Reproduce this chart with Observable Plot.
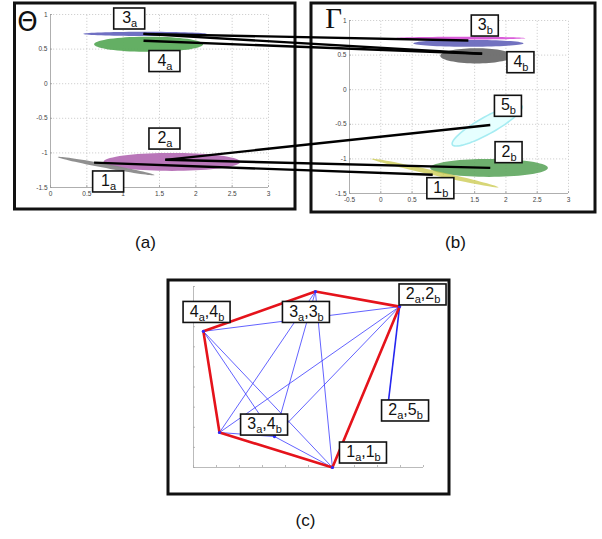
<!DOCTYPE html>
<html><head><meta charset="utf-8">
<script src="https://cdn.jsdelivr.net/npm/d3@7"></script>
<script src="https://cdn.jsdelivr.net/npm/@observablehq/plot@0.6"></script>
<style>
body{margin:0;background:#fff;font-family:Arial,"Liberation Sans",sans-serif}
#chart svg{display:block}
</style>
</head><body><div id="chart"></div>
<script>
// ---------- DATA ----------
const ticksAX = [0, 0.5, 1, 1.5, 2, 2.5, 3];
const ticksAY = [-1.5, -1, -0.5, 0, 0.5, 1];
const ticksBX = [-0.5, 0, 0.5, 1, 1.5, 2, 2.5, 3];
const ticksBY = [-1.5, -1, -0.5, 0, 0.5, 1];
const ticksCX = [0, 1, 2, 3, 4, 5, 6, 7, 8, 9, 10];
const ticksCY = [0, 1, 2, 3, 4, 5, 6, 7, 8, 9];

// ellipses: centre, half axes, tilt of major axis (data units)
const ellipsesA = [
  {id: "4a", cx: 1.35, cy: 0.57, rx: 0.75, ry: 0.11, tilt: 0},
  {id: "3a", cx: 1.30, cy: 0.72, rx: 0.85, ry: 0.03, tilt: 0},
  {id: "2a", cx: 1.67, cy: -1.13, rx: 0.94, ry: 0.13, tilt: 0},
  {id: "1a", cx: 0.765, cy: -1.19, rx: 0.665, ry: 0.03, tilt: -0.13}
];
const ellipsesB = [
  {id: "3b'", cx: 1.40, cy: 0.67, rx: 0.88, ry: 0.05, tilt: 0},
  {id: "3b", cx: 1.27, cy: 0.745, rx: 1.04, ry: 0.02, tilt: 0},
  {id: "4b", cx: 1.53, cy: 0.49, rx: 0.58, ry: 0.11, tilt: 0},
  {id: "5b", cx: 1.70, cy: -0.515, rx: 0.56, ry: 0.14, tilt: 0.265},
  {id: "2b", cx: 1.73, cy: -1.13, rx: 0.94, ry: 0.13, tilt: 0},
  {id: "1b", cx: 0.865, cy: -1.205, rx: 1.015, ry: 0.035, tilt: -0.205}
];
// matches between the two panels (a point -> b point)
const matches = [
  {from: "3a", ax: 1.28, ay: 0.72, to: "3b", bx: 1.40, by: 0.71},
  {from: "3a", ax: 1.28, ay: 0.72, to: "4b", bx: 1.62, by: 0.52},
  {from: "4a", ax: 1.28, ay: 0.62, to: "4b", bx: 1.62, by: 0.52},
  {from: "2a", ax: 1.58, ay: -1.10, to: "5b", bx: 1.75, by: -0.51},
  {from: "2a", ax: 1.58, ay: -1.10, to: "2b", bx: 1.75, by: -1.13},
  {from: "1a", ax: 0.60, ay: -1.14, to: "1b", bx: 0.83, by: -1.23}
];
const labelsA = [
  {text: "3_a", x: 1.09, y: 0.935},
  {text: "4_a", x: 1.575, y: 0.32},
  {text: "2_a", x: 1.575, y: -0.80},
  {text: "1_a", x: 0.80, y: -1.42}
];
const labelsB = [
  {text: "3_b", x: 1.67, y: 0.92},
  {text: "4_b", x: 2.24, y: 0.39},
  {text: "5_b", x: 2.04, y: -0.24},
  {text: "2_b", x: 2.05, y: -0.91},
  {text: "1_b", x: 0.96, y: -1.43}
];
// graph (c)
const nodes = [
  {id: "4a4b", x: 0.43, y: 6.77},
  {id: "3a3b", x: 5.30, y: 8.75},
  {id: "2a2b", x: 8.96, y: 8.00},
  {id: "2a5b", x: 8.48, y: 3.33},
  {id: "1a1b", x: 6.04, y: 0.00},
  {id: "LB",   x: 1.13, y: 1.74},
  {id: "3a4b", x: 3.52, y: 1.54}
];
const hullOrder = ["4a4b", "3a3b", "2a2b", "1a1b", "LB", "4a4b"];
const blueEdges = [
  ["4a4b","2a2b"],["4a4b","1a1b"],["4a4b","3a4b"],["4a4b","3a3b"],["LB","3a3b"],
  ["LB","2a2b"],["LB","3a4b"],["3a4b","1a1b"],["3a4b","3a3b"],["3a4b","2a2b"],
  ["1a1b","3a3b"],["3a3b","2a2b"],["1a1b","2a2b"],["LB","4a4b"],["LB","1a1b"]
];
const strongEdges = [["2a2b","2a5b"]];
const labelsC = [
  {text: "4_a,4_b", x: 0.59, y: 7.71},
  {text: "3_a,3_b", x: 4.91, y: 7.71},
  {text: "2_a,2_b", x: 9.98, y: 8.58},
  {text: "2_a,5_b", x: 9.22, y: 2.81},
  {text: "3_a,4_b", x: 3.09, y: 2.11},
  {text: "1_a,1_b", x: 7.39, y: 0.72}
];
const captions = ["(a)", "(b)", "(c)"];
const panelSymbols = ["Θ", "Γ"];

// ---------- STYLE / LAYOUT ----------
const colors = {"4a":"#5cab5c","3a":"#6868c0","2a":"#b56fb5","1a":"#8a8a8a",
  "3b'":"#6a6abd","3b":"#d64bd6","4b":"#6c6c6c","5b":"#e6ffff","2b":"#5ea65e","1b":"#c9c84a"};
const opac = {"4a":0.95,"3a":0.95,"2a":0.95,"1a":0.95,"3b'":0.95,"3b":0.9,"4b":0.95,"5b":1,"2b":0.9,"1b":0.75};
const pa = {x: d3.scaleLinear([0, 3], [50, 268]), y: d3.scaleLinear([-1.5, 1], [187, 14])};
const pb = {x: d3.scaleLinear([-0.5, 3], [349, 568]), y: d3.scaleLinear([-1.5, 1], [193, 20])};
const pc = {x: d3.scaleLinear([0, 10], [193, 423]), y: d3.scaleLinear([0, 9], [467, 286])};
const frames = [{x1: 14.5, x2: 295, y1: 3, y2: 209}, {x1: 311, x2: 595, y1: 3, y2: 212}, {x1: 168, x2: 449, y1: 280, y2: 494}];
const captionPos = [{x: 145, y: 242}, {x: 455, y: 242}, {x: 305, y: 520}];
const symbolPos = [{x: 27, y: 22, font: "DejaVu Sans", size: 26}, {x: 333, y: 18, font: "Liberation Serif", size: 29}];
const boxW = {a: 31, b: 27, c: 47}, boxH = 21;

const boxesA = labelsA.map(d => ({cx: pa.x(d.x), cy: pa.y(d.y), w: boxW.a}));
const boxesB = labelsB.map(d => ({cx: pb.x(d.x), cy: pb.y(d.y), w: boxW.b}));
const covered = (px, py, boxes) => boxes.some(b => Math.abs(px - b.cx) < b.w / 2 + 1 && Math.abs(py - b.cy) < boxH / 2 + 1);

function ellipsePts(e, P) {
  const pts = [];
  for (let i = 0; i <= 72; i++) {
    const t = i / 72 * 2 * Math.PI;
    pts.push({px: P.x(e.cx + e.rx * Math.cos(t)), py: P.y(e.cy + e.tilt * Math.cos(t) + e.ry * Math.sin(t))});
  }
  return pts;
}

function panelMarks(P, tx, ty, boxes) {
  const x0 = tx[0], x1 = tx[tx.length - 1], y0 = ty[0], y1 = ty[ty.length - 1];
  const grid = {stroke: "#bdbdbd", strokeWidth: 0.7, strokeDasharray: "1.2,1.8"};
  return [
    Plot.ruleX(tx.slice(1), {x: d => P.x(d), y1: P.y(y0), y2: P.y(y1), ...grid}),
    Plot.ruleY(ty.slice(1), {y: d => P.y(d), x1: P.x(x0), x2: P.x(x1), ...grid}),
    Plot.ruleX([x0], {x: d => P.x(d), y1: P.y(y0), y2: P.y(y1), stroke: "#9a9a9a", strokeWidth: 0.8}),
    Plot.ruleY([y0], {y: d => P.y(d), x1: P.x(x0), x2: P.x(x1), stroke: "#9a9a9a", strokeWidth: 0.8}),
    Plot.ruleX(tx, {x: d => P.x(d), y1: P.y(y0), y2: P.y(y0) - 2, stroke: "#9a9a9a", strokeWidth: 0.8}),
    Plot.ruleY(ty, {y: d => P.y(d), x1: P.x(x0), x2: P.x(x0) + 2, stroke: "#9a9a9a", strokeWidth: 0.8}),
    Plot.text(tx.filter(d => !covered(P.x(d), P.y(y0) + 6, boxes)),
      {x: d => P.x(d), y: P.y(y0) + 6, text: d => String(d), fontSize: 6.5, fill: "#444"}),
    Plot.text(ty, {x: P.x(x0) - 3, y: d => P.y(d), text: d => String(d), fontSize: 6.5, fill: "#444", textAnchor: "end"})
  ];
}

function labelMarks(list, P, w) {
  return [
    Plot.rect(list, {x1: d => P.x(d.x) - w / 2, x2: d => P.x(d.x) + w / 2, y1: d => P.y(d.y) - boxH / 2, y2: d => P.y(d.y) + boxH / 2,
      fill: "white", stroke: "#111", strokeWidth: 1.6}),
    Plot.text(list, {x: d => P.x(d.x), y: d => P.y(d.y) - 1, text: "text", fontSize: 16, fill: "#111",
      fontFamily: "Arial, Liberation Sans, sans-serif"})
  ];
}

const nodeById = Object.fromEntries(nodes.map(n => [n.id, n]));
const edgeSegs = (list) => list.map(([a, b]) => ({x1: pc.x(nodeById[a].x), y1: pc.y(nodeById[a].y), x2: pc.x(nodeById[b].x), y2: pc.y(nodeById[b].y)}));
const hullPts = hullOrder.map(id => ({px: pc.x(nodeById[id].x), py: pc.y(nodeById[id].y)}));

const marks = [
  Plot.rect(frames, {x1: "x1", x2: "x2", y1: "y1", y2: "y2", fill: "white", stroke: "none"}),
  ...panelMarks(pa, ticksAX, ticksAY, boxesA),
  ...panelMarks(pb, ticksBX, ticksBY, boxesB),
  ...ellipsesA.map(e => Plot.line(ellipsePts(e, pa), {x: "px", y: "py", fill: colors[e.id], fillOpacity: opac[e.id], stroke: "none"})),
  ...ellipsesB.map(e => Plot.line(ellipsePts(e, pb), {x: "px", y: "py", fill: colors[e.id], fillOpacity: opac[e.id],
      stroke: e.id === "5b" ? "#a6ecf2" : "none", strokeWidth: 1.6})),
  Plot.rect(frames, {x1: "x1", x2: "x2", y1: "y1", y2: "y2", fill: "none", stroke: "#111", strokeWidth: 3}),
  Plot.link(matches, {x1: d => pa.x(d.ax), y1: d => pa.y(d.ay), x2: d => pb.x(d.bx), y2: d => pb.y(d.by), stroke: "#000", strokeWidth: 2.4}),
  ...labelMarks(labelsA, pa, boxW.a),
  ...labelMarks(labelsB, pb, boxW.b),
  // panel (c)
  Plot.ruleX([ticksCX[0]], {x: d => pc.x(d), y1: pc.y(ticksCY[0]), y2: pc.y(ticksCY[ticksCY.length - 1]), stroke: "#aaa", strokeWidth: 0.8}),
  Plot.ruleY([ticksCY[0]], {y: d => pc.y(d), x1: pc.x(ticksCX[0]), x2: pc.x(ticksCX[ticksCX.length - 1]), stroke: "#aaa", strokeWidth: 0.8}),
  Plot.ruleX(ticksCX, {x: d => pc.x(d), y1: pc.y(0), y2: pc.y(0) - 2, stroke: "#aaa", strokeWidth: 0.8}),
  Plot.ruleY(ticksCY, {y: d => pc.y(d), x1: pc.x(0), x2: pc.x(0) + 2, stroke: "#aaa", strokeWidth: 0.8}),
  Plot.link(edgeSegs(blueEdges), {x1: "x1", y1: "y1", x2: "x2", y2: "y2", stroke: "#3b3bff", strokeWidth: 0.8}),
  Plot.link(edgeSegs(strongEdges), {x1: "x1", y1: "y1", x2: "x2", y2: "y2", stroke: "#2626f0", strokeWidth: 1.6}),
  Plot.line(hullPts, {x: "px", y: "py", stroke: "#e5131b", strokeWidth: 2.6}),
  Plot.dot(nodes, {x: d => pc.x(d.x), y: d => pc.y(d.y), r: 1.6, fill: "#2a2aff"}),
  ...labelMarks(labelsC, pc, boxW.c),
  // symbols & captions
  Plot.text(panelSymbols, {x: (d, i) => symbolPos[i].x, y: (d, i) => symbolPos[i].y, text: d => d, fontSize: 22, fill: "#111"}),
  Plot.text(captions, {x: (d, i) => captionPos[i].x, y: (d, i) => captionPos[i].y, text: d => d, fontSize: 17, fill: "#111",
    fontFamily: "Arial, Liberation Sans, sans-serif"})
];

const svg = Plot.plot({
  width: 602, height: 539, margin: 0,
  x: {type: "identity", axis: null}, y: {type: "identity", axis: null},
  style: {background: "white", fontFamily: "Arial, Liberation Sans, sans-serif"},
  marks
});

// subscripts: any text containing "_x" gets a lowered, smaller tspan
svg.querySelectorAll("text").forEach(t => {
  const s = t.textContent;
  if (!s.includes("_")) return;
  while (t.firstChild) t.removeChild(t.firstChild);
  const parts = s.split(/(_\w)/).filter(p => p);
  let sub = false;
  parts.forEach(p => {
    const ts = document.createElementNS("http://www.w3.org/2000/svg", "tspan");
    if (p[0] === "_") { ts.textContent = p.slice(1); ts.setAttribute("font-size", "11"); if (!sub) ts.setAttribute("dy", "4"); sub = true; }
    else { ts.textContent = p; if (sub) ts.setAttribute("dy", "-4"); sub = false; }
    t.appendChild(ts);
  });
});
// symbol fonts
svg.querySelectorAll("text").forEach(t => {
  const i = panelSymbols.indexOf(t.textContent);
  if (i >= 0) { t.setAttribute("font-family", symbolPos[i].font); t.setAttribute("font-size", symbolPos[i].size); }
});
document.getElementById("chart").appendChild(svg);
</script>
</body></html>
